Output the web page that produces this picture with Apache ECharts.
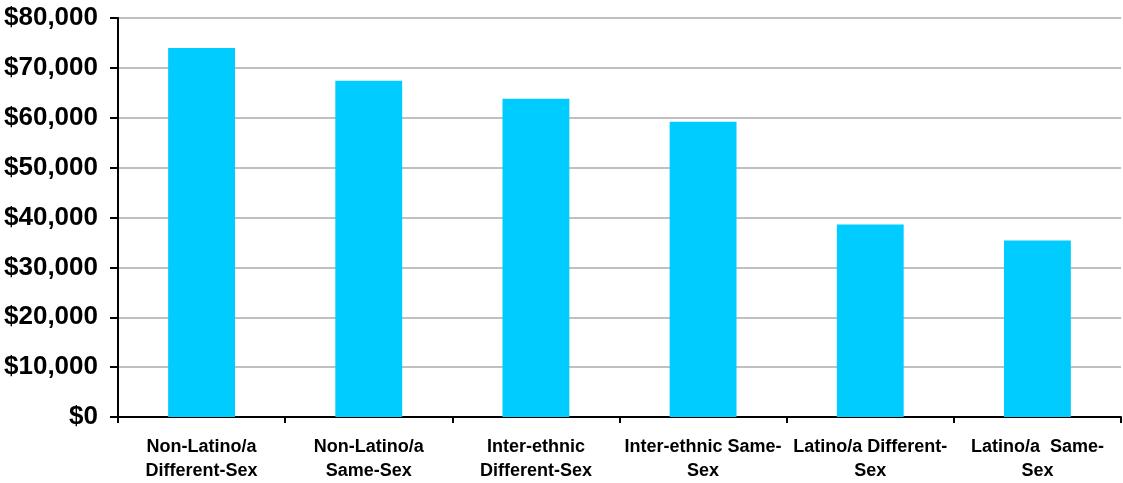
<!DOCTYPE html>
<html>
<head>
<meta charset="utf-8">
<script src="https://cdn.jsdelivr.net/npm/echarts@6/dist/echarts.min.js"></script>
<style>html,body{margin:0;padding:0;background:#fff;}#c{width:1123px;height:483px;}</style>
</head>
<body>
<div id="c"></div>
<script>
const categories = ["Non-Latino/a\nDifferent-Sex", "Non-Latino/a\nSame-Sex", "Inter-ethnic\nDifferent-Sex", "Inter-ethnic Same-\nSex", "Latino/a Different-\nSex", "Latino/a  Same-\nSex"];
const values = [74000, 67400, 63800, 59200, 38600, 35400];
const yTicks = [0, 10000, 20000, 30000, 40000, 50000, 60000, 70000, 80000];

const chart = echarts.init(document.getElementById('c'));
chart.setOption({
  animation: false,
  grid: { left: 118, right: 2, top: 18, bottom: 65, containLabel: false },
  xAxis: {
    type: 'category',
    data: categories,
    axisLine: { lineStyle: { color: '#000', width: 2 } },
    axisTick: { show: true, length: 6, lineStyle: { color: '#000', width: 2 } },
    axisLabel: { color: '#000', fontFamily: 'Liberation Sans, Arial', fontWeight: 'bold', fontSize: 18, lineHeight: 24, margin: 18, interval: 0 }
  },
  yAxis: {
    type: 'value',
    min: yTicks[0], max: yTicks[yTicks.length - 1], interval: 10000,
    axisLine: { show: true, lineStyle: { color: '#000', width: 2 } },
    axisTick: { show: true, length: 8, lineStyle: { color: '#000', width: 2 } },
    splitLine: { lineStyle: { color: '#c0c0c0', width: 2 } },
    axisLabel: {
      color: '#000', fontFamily: 'Liberation Sans, Arial', fontWeight: 'bold', fontSize: 26, margin: 20,
      formatter: v => '$' + v.toLocaleString('en-US')
    }
  },
  series: [{
    type: 'bar',
    data: values,
    barWidth: '40%',
    itemStyle: { color: '#00CCFF' }
  }]
});
</script>
</body>
</html>
